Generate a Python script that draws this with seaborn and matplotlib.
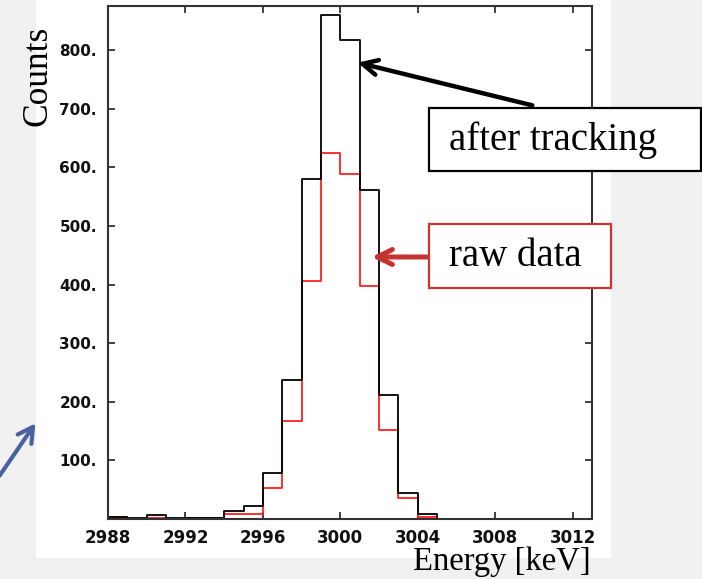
import numpy as np
import pandas as pd
import matplotlib
matplotlib.use("Agg")
import matplotlib.pyplot as plt
from matplotlib.patches import Rectangle
import seaborn as sns

# 1 keV bins from 2988 to 3013 keV (left edges)
bin_left = list(range(2988, 3013))
after_tracking = [3, 1, 6, 1, 2, 2, 14, 22, 78, 237, 581, 860, 818, 562, 212, 44, 8,
                  0, 0, 0, 0, 0, 0, 0, 0]
raw_data = [3, 0, 2, 0, 2, 2, 8, 8, 53, 167, 407, 625, 589, 398, 152, 35, 4,
            0, 0, 0, 0, 0, 0, 0, 0]
x_ticks = [2988, 2992, 2996, 3000, 3004, 3008, 3012]
y_ticks = [100, 200, 300, 400, 500, 600, 700, 800]

sns.set_theme(style="white")

W, H = 702, 579
fig = plt.figure(figsize=(W / 100, H / 100), dpi=100)
fig.patch.set_facecolor("#f1f1f1")

# white panel behind the histogram
fig.patches.append(Rectangle((36 / W, 1 - 558 / H), (611 - 36) / W, 558 / H,
                             transform=fig.transFigure, facecolor="white",
                             edgecolor="none", zorder=-5))

ax = fig.add_axes([108 / W, 1 - 519 / H, (592 - 108) / W, (519 - 5.7) / H])
ax.set_facecolor("white")

centers = np.array(bin_left) + 0.5
df = pd.DataFrame({"energy": centers, "after": after_tracking, "raw": raw_data})

sns.histplot(data=df, x="energy", weights="raw", binwidth=1,
             binrange=(2988, 3013), element="step",
             fill=False, color="#ff2020", linewidth=1.3, ax=ax)
sns.histplot(data=df, x="energy", weights="after", binwidth=1,
             binrange=(2988, 3013), element="step",
             fill=False, color="black", linewidth=1.3, ax=ax)

ax.set_xlim(2988, 3013)
ax.set_ylim(0, 876)
ax.set_xticks(x_ticks)
ax.set_yticks(y_ticks)
ax.set_xticklabels([str(t) for t in x_ticks], fontweight="bold", fontsize=12,
                   family="DejaVu Sans", color="#111111")
ax.set_yticklabels([f"{t}." for t in y_ticks], fontweight="bold", fontsize=11,
                   family="DejaVu Sans", color="#111111")
ax.set_xlabel("")
ax.set_ylabel("")
ax.tick_params(axis="both", direction="in", length=5, width=1.3, color="#333333",
               top=True, right=True, bottom=True, left=True,
               labeltop=False, labelright=False)
ax.tick_params(axis="x", pad=7)
ax.tick_params(axis="y", pad=8)
for s in ax.spines.values():
    s.set_color("#333333")
    s.set_linewidth(1.5)

serif = ["Liberation Serif", "DejaVu Serif"]
fig.text(38 / W, 1 - 76 / H, "Counts", rotation=90, ha="center", va="center",
         fontsize=25.5, family=serif, color="black")
fig.text(502 / W, 2 / H, "Energy [keV]", ha="center", va="bottom",
         fontsize=23.5, family=serif, color="black")

# callout boxes
fig.patches.append(Rectangle((429 / W, 1 - 171 / H), (701 - 429) / W, 63 / H,
                             transform=fig.transFigure, facecolor="white",
                             edgecolor="black", linewidth=1.6, zorder=5))
fig.text(449 / W, 1 - 140 / H, "after tracking", ha="left", va="center",
         fontsize=28, family=serif, color="black", zorder=6)
fig.patches.append(Rectangle((429 / W, 1 - 288 / H), (611 - 429) / W, 64 / H,
                             transform=fig.transFigure, facecolor="white",
                             edgecolor="#cc3333", linewidth=1.6, zorder=5))
fig.text(449 / W, 1 - 256 / H, "raw data", ha="left", va="center",
         fontsize=28, family=serif, color="black", zorder=6)

# arrows
ax.annotate("", xy=(355, H - 62), xycoords="figure pixels",
            xytext=(535, H - 106), textcoords="figure pixels",
            arrowprops=dict(arrowstyle="->,head_length=0.9,head_width=0.45",
                            color="black", lw=3.2))
ax.annotate("", xy=(369, H - 257), xycoords="figure pixels",
            xytext=(430, H - 257), textcoords="figure pixels",
            arrowprops=dict(arrowstyle="->,head_length=0.9,head_width=0.45",
                            color="#c43232", lw=3.6))
ax.annotate("", xy=(37, H - 421), xycoords="figure pixels",
            xytext=(-2, H - 478), textcoords="figure pixels",
            arrowprops=dict(arrowstyle="->,head_length=0.9,head_width=0.5",
                            color="#4a62a0", lw=3.0))

fig.savefig("out.png", dpi=100, facecolor=fig.get_facecolor())
